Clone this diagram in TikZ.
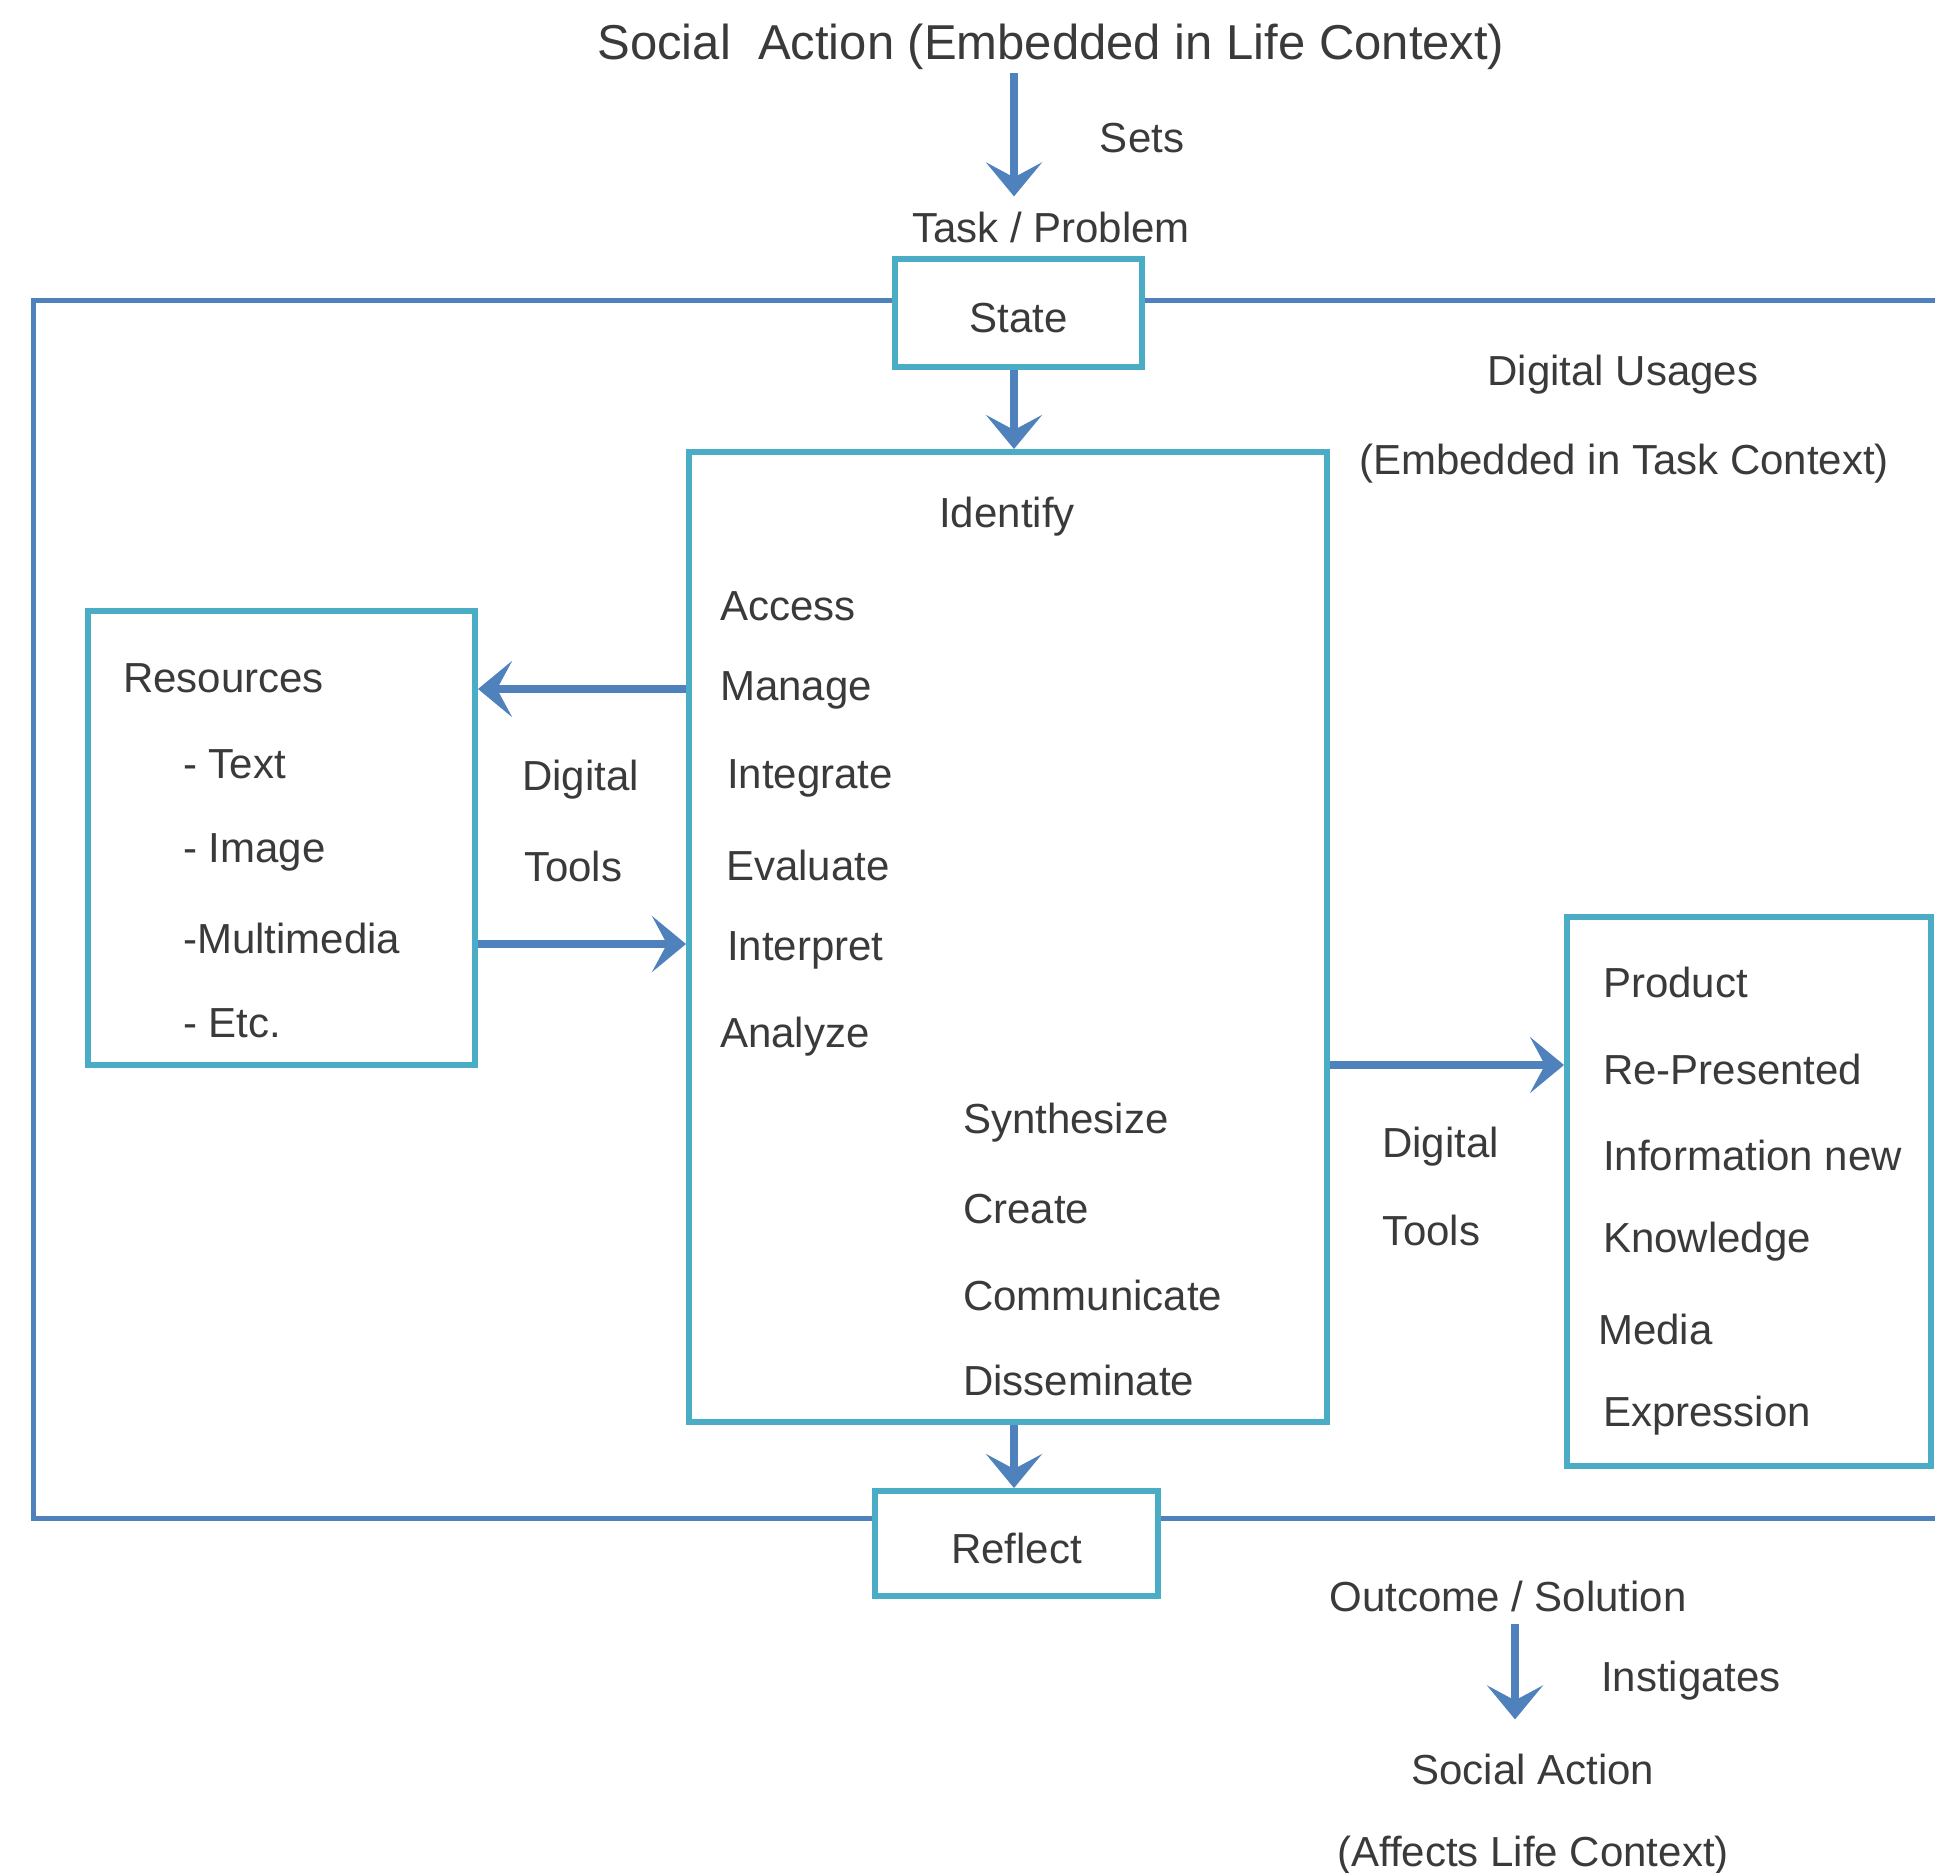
\documentclass[tikz,border=0pt]{standalone}
\usepackage{fontspec}
\setmainfont{Liberation Sans}
\usetikzlibrary{arrows.meta}
\definecolor{frameblue}{HTML}{4F81BD}
\definecolor{boxteal}{HTML}{4BACC6}
\definecolor{txt}{HTML}{3A3A3A}
\tikzset{
  lbl/.style={inner sep=0pt, text=txt, yshift=-5pt, font=\fontsize{42}{50}\selectfont},
  bigtitle/.style={inner sep=0pt, text=txt, yshift=-4pt, font=\fontsize{49}{58}\selectfont},
  tealbox/.style={draw=boxteal, line width=6pt, fill=white, inner sep=0pt},
  outerline/.style={draw=frameblue, line width=5pt},
  arr/.style={draw=frameblue, line width=8pt, -{Stealth[length=34pt,width=56pt,inset=15pt]}},
}
\begin{document}
\begin{tikzpicture}[x=1pt,y=-1pt]
\useasboundingbox (0,0) rectangle (1935,1872);
% outer frame (open on the right)
\draw[outerline] (1935,300) -- (33,300) -- (33,1518) -- (1935,1518);
% boxes
\node[tealbox, minimum width=247pt, minimum height=108pt] (state) at (1018.5,313) {};
\node[lbl] at (state.center) (statetxt) {State};
\node[tealbox, minimum width=638pt, minimum height=970pt] (ident) at (1008,937) {};
\node[tealbox, minimum width=387pt, minimum height=454pt] (res) at (281.5,838) {};
\node[tealbox, minimum width=364pt, minimum height=549pt] (prod) at (1749,1191.5) {};
\node[tealbox, minimum width=283pt, minimum height=105pt] (reflect) at (1016.5,1543.5) {};
\node[lbl] at (reflect.center) (reflecttxt) {Reflect};
% top texts
\node[bigtitle] (title) at (1051,43) {Social\ \ Action (Embedded in Life Context)};
\node[lbl] (sets) at (1142,133) {Sets};
\node[lbl] (task) at (1051,222) {Task / Problem};
\node[lbl] (du1) at (1623,370) {Digital Usages};
\node[lbl] (du2) at (1624,459) {(Embedded in Task Context)};
% central box texts
\node[lbl] (identify) at (1007,512) {Identify};
\node[lbl, anchor=west] (access) at (720,601) {Access};
\node[lbl, anchor=west] (manage) at (720,685) {Manage};
\node[lbl, anchor=west] (integrate) at (727,773) {Integrate};
\node[lbl, anchor=west] (evaluate) at (726,860) {Evaluate};
\node[lbl, anchor=west] (interpret) at (727,945) {Interpret};
\node[lbl, anchor=west] (analyze) at (720,1032) {Analyze};
\node[lbl, anchor=west] (synth) at (963,1118) {Synthesize};
\node[lbl, anchor=west] (create) at (963,1204) {Create};
\node[lbl, anchor=west] (commun) at (963,1290) {Communicate};
\node[lbl, anchor=west] (dissem) at (963,1375) {Disseminate};
% resources texts
\node[lbl, anchor=west] (restitle) at (123,673) {Resources};
\node[lbl, anchor=west] (rtext) at (183,759) {- Text};
\node[lbl, anchor=west] (rimage) at (183,847) {- Image};
\node[lbl, anchor=west] (rmulti) at (183,933) {-Multimedia};
\node[lbl, anchor=west] (retc) at (183,1018) {- Etc.};
\node[lbl, anchor=west] (dt1a) at (522,775) {Digital};
\node[lbl, anchor=west] (dt1b) at (524,861) {Tools};
% product texts
\node[lbl, anchor=west] (pproduct) at (1603,977) {Product};
\node[lbl, anchor=west] (prep) at (1603,1064) {Re-Presented};
\node[lbl, anchor=west] (pinfo) at (1603,1150) {Information new};
\node[lbl, anchor=west] (pknow) at (1603,1237) {Knowledge};
\node[lbl, anchor=west] (pmedia) at (1598,1324) {Media};
\node[lbl, anchor=west] (pexpr) at (1603,1411) {Expression};
\node[lbl, anchor=west] (dt2a) at (1382,1142) {Digital};
\node[lbl, anchor=west] (dt2b) at (1382,1225) {Tools};
% bottom texts
\node[lbl] (outcome) at (1508,1591) {Outcome / Solution};
\node[lbl] (instig) at (1691,1676) {Instigates};
\node[lbl] (social) at (1533,1764) {Social Action};
\node[lbl] (affects) at (1533,1851) {(Affects Life Context)};
% connectors
\draw[arr, shorten <=3pt, shorten >=15pt] ([xshift=-4.5pt]title.south -| state.north) -- ([xshift=-4.5pt]task.north -| state.north);
\draw[arr] ([xshift=-4.5pt]state.south) -- ([xshift=-4.5pt]state.south |- ident.north);
\draw[arr] (ident.west |- 0,689) -- (res.east |- 0,689);
\draw[arr] (res.east |- 0,944) -- (ident.west |- 0,944);
\draw[arr] (ident.east |- 0,1065) -- (prod.west |- 0,1065);
\draw[arr] ([xshift=-2.5pt]reflect.north |- ident.south) -- ([xshift=-2.5pt]reflect.north);
\draw[arr, shorten <=12pt, shorten >=34pt] (outcome.south -| 1515,0) -- (social.north -| 1515,0);
\end{tikzpicture}
\end{document}
